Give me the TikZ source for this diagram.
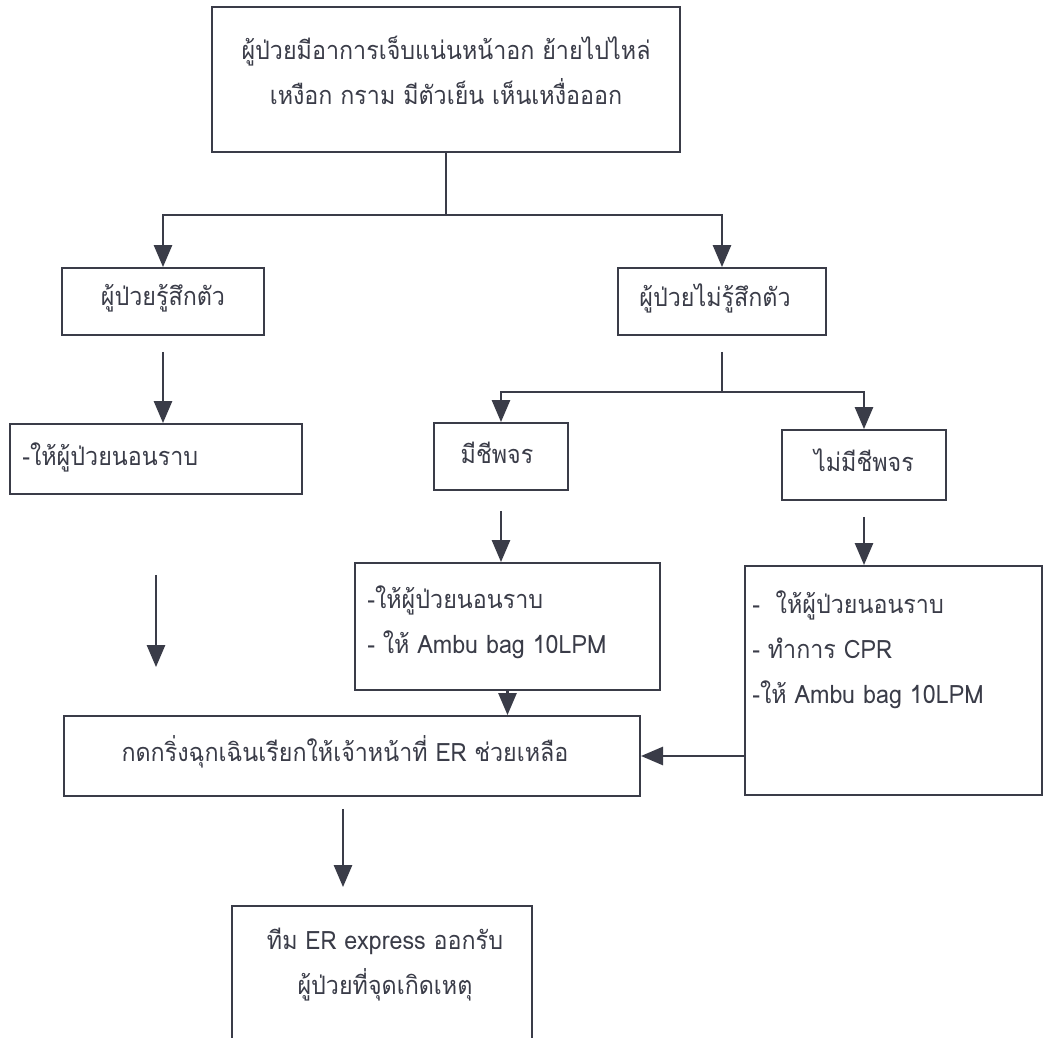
\documentclass[tikz,border=0pt]{standalone}
\usepackage{fontspec}
\newfontfamily\thaifont[Script=Thai, FakeStretch=0.92]{Loma}
\usepackage{tikz}
\usetikzlibrary{positioning, arrows.meta}
\definecolor{inkgray}{RGB}{58,60,72}

\begin{document}
\begin{tikzpicture}[x=0.025cm, y=-0.025cm,
		>={Triangle[length=0.55cm, width=0.45cm]},
		box/.style={draw=inkgray, line width=1.3pt, inner sep=0pt},
		txt/.style={inner sep=0pt, align=center, text=inkgray, font=\thaifont\fontsize{18}{32}\selectfont},
		flow/.style={->, draw=inkgray, line width=1.9pt},
		link/.style={draw=inkgray, line width=1.9pt}]
		
		\useasboundingbox (0,0) rectangle (1047,1038);
		\clip (0,0) rectangle (1047,1038);
		
		% the boxes, placed at their centres
		\node[box, minimum width=11.7cm, minimum height=3.625cm] (top) at (446,79.5) {};
		\node[box, minimum width=5.05cm, minimum height=1.675cm] (aware) at (163,301.5) {};
		\node[box, minimum width=5.2cm, minimum height=1.675cm] (unaware) at (722,301.5) {};
		\node[box, minimum width=7.3cm, minimum height=1.75cm] (lie) at (156,459) {};
		\node[box, minimum width=3.35cm, minimum height=1.675cm] (pulse) at (501,456.5) {};
		\node[box, minimum width=4.1cm, minimum height=1.75cm] (nopulse) at (864,465) {};
		\node[box, minimum width=7.625cm, minimum height=3.175cm] (pulseAct) at (507.5,626.5) {};
		\node[box, minimum width=7.425cm, minimum height=5.725cm] (nopulseAct) at (893.5,680.5) {};
		\node[box, minimum width=14.4cm, minimum height=2cm] (call) at (352,756) {};
		\node[box, minimum width=7.5cm, minimum height=3.6cm] (team) at (382,978) {};
		
		% the texts
		\node[txt] (topT) at (446,70) {ผู้ป่วยมีอาการเจ็บแน่นหน้าอก ย้ายไปไหล่\\เหงือก กราม มีตัวเย็น เห็นเหงื่อออก};
		\node[txt] (awareT) at (163,298) {ผู้ป่วยรู้สึกตัว};
		\node[txt] (unawareT) at (715,298) {ผู้ป่วยไม่รู้สึกตัว};
		\node[txt, anchor=west] (lieT) at (22,457) {-ให้ผู้ป่วยนอนราบ};
		\node[txt] (pulseT) at (497,453) {มีชีพจร};
		\node[txt] (nopulseT) at (864,460) {ไม่มีชีพจร};
		\node[txt, anchor=west, align=left] (pulseActT) at (367,622) {-ให้ผู้ป่วยนอนราบ\\- ให้ Ambu bag 10LPM};
		\node[txt, anchor=west, align=left] (nopulseActT) at (752,650) {-\ \ ให้ผู้ป่วยนอนราบ\\- ทำการ CPR\\-ให้ Ambu bag 10LPM};
		\node[txt] (callT) at (345,752) {กดกริ่งฉุกเฉินเรียกให้เจ้าหน้าที่ ER ช่วยเหลือ};
		\node[txt] (teamT) at (385,965) {ทีม ER express ออกรับ\\ผู้ป่วยที่จุดเกิดเหตุ};
		
		% split points
		\coordinate (split) at (446,215);
		\coordinate (split2) at (722,392);
		\coordinate (callOut) at ([xshift=-0.225cm]call.south);
		
		% first split
		\draw[link] (top) -- (split);
		\draw[flow] (split) -| (aware);
		\draw[flow] (split) -| (unaware);
		
		% aware branch
		\draw[flow, shorten <=0.4cm] (aware) -- (aware.south |- lie.north);
		\draw[flow, shorten <=2cm, shorten >=1.2cm] (lie) -- (lie.south |- call.north);
		
		% unaware branch
		\draw[link, shorten <=0.4cm] (unaware) -- (split2);
		\draw[flow] (split2) -| (pulse);
		\draw[flow] (split2) -| (nopulse);
		\draw[flow, shorten <=0.5cm] (pulse) -- (pulse.south |- pulseAct.north);
		\draw[flow, shorten <=0.4cm] (nopulse) -- (nopulse.south |- nopulseAct.north);
		\draw[flow] (pulseAct) -- (pulseAct.south |- call.north);
		\draw[flow] (nopulseAct.west |- call.east) -- (call.east);
		
		% call for help
		\draw[flow, shorten <=0.3cm, shorten >=0.45cm] (callOut) -- (callOut |- team.north);
	\end{tikzpicture}
\end{document}
